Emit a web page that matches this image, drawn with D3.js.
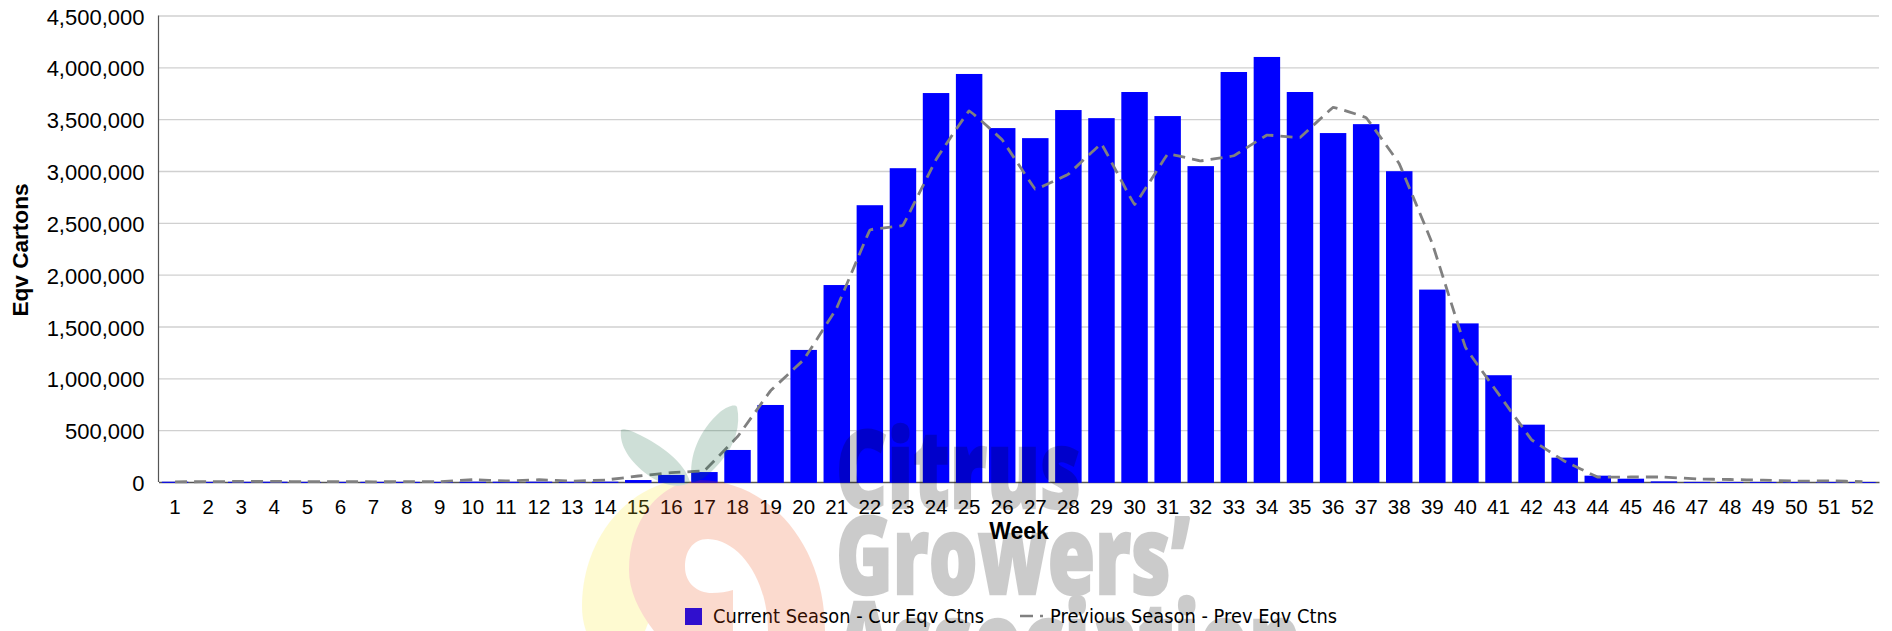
<!DOCTYPE html>
<html>
<head>
<meta charset="utf-8">
<style>
  html, body { margin: 0; padding: 0; background: #fff; overflow: hidden; }
  text { font-family: "Liberation Sans", Arial, sans-serif; fill: #000; }
</style>
<script src="https://cdn.jsdelivr.net/npm/d3@7"></script>
</head>
<body>
<script>
let width = 1892;
let height = 631;

let margin = {top: 15.5, right: 13, bottom: 149, left: 158.5};

let weeks = d3.range(1, 53);

let currentSeason = [
  2500, 1500, 2000, 2500, 1500, 1500, 1500, 1500, 1500, 3000,
  2500, 3000, 2000, 3000, 19000, 68000, 96000, 309000, 743000, 1274000,
  1900000, 2670000, 3027000, 3752000, 3936000, 3414000, 3317000, 3588000, 3510000, 3762000,
  3530000, 3047000, 3955000, 4100000, 3762000, 3366000, 3452000, 2998000, 1856000, 1530000,
  1030000, 553000, 235000, 61000, 32000, 6000, 1000, 500, 500, 500,
  500, 300
];

let previousSeason = [
  2000, 3000, 6000, 6000, 3000, 4000, 2000, 3000, 4000, 22000,
  10000, 22000, 8000, 19000, 58000, 90000, 110000, 437000, 880000, 1180000,
  1680000, 2430000, 2477000, 3110000, 3580000, 3300000, 2825000, 2970000, 3260000, 2676000,
  3163000, 3098000, 3147000, 3346000, 3324000, 3614000, 3514000, 3070000, 2300000, 1300000,
  850000, 408000, 200000, 48000, 48000, 48000, 29000, 24000, 18000, 8000,
  11000, 3000
];

let yTicks = d3.range(0, 4500001, 500000);

let legendLabels = ['Current Season - Cur Eqv Ctns', 'Previous Season - Prev Eqv Ctns'];

let svg = d3.select('body')
    .append('svg')
    .attr('width', width)
    .attr('height', height)
    .style('display', 'block');

let x = d3.scaleBand()
    .domain(weeks)
    .range([margin.left, width - margin.right])
    .paddingInner(0.2)
    .paddingOuter(0.1);

let y = d3.scaleLinear()
    .domain([0, 4500000])
    .range([height - margin.bottom, margin.top]);

// gridlines + left axis
let yAxis = svg.append('g')
    .attr('transform', `translate(${margin.left},0)`)
    .call(d3.axisLeft(y)
      .tickValues(yTicks)
      .tickSize(0)
      .tickPadding(14)
      .tickFormat(d3.format(',')));

yAxis.select('.domain').remove();
yAxis.selectAll('text')
    .attr('dy', '0.39em')
    .style('font-size', '22px');
yAxis.selectAll('.tick').filter(d => d > 0).append('line')
    .attr('x1', 0)
    .attr('x2', width - margin.right - margin.left)
    .attr('stroke', '#d0d0d0')
    .attr('stroke-width', 1.4);

svg.append('line')
    .attr('x1', margin.left)
    .attr('x2', margin.left)
    .attr('y1', y(4500000))
    .attr('y2', y(0))
    .attr('stroke', '#555')
    .attr('stroke-width', 1.2);

let xAxis = svg.append('g')
    .attr('transform', `translate(0,${y(0)})`)
    .call(d3.axisBottom(x).tickSize(0).tickPadding(17));

xAxis.select('.domain')
    .attr('stroke', '#555')
    .attr('stroke-width', 1.4);
xAxis.selectAll('text')
    .style('font-size', '20.5px');

svg.append('g')
  .selectAll('rect')
    .data(weeks)
  .enter().append('rect')
    .attr('x', d => x(d))
    .attr('width', x.bandwidth())
    .attr('y', (d, i) => y(currentSeason[i]))
    .attr('height', (d, i) => y(0) - y(currentSeason[i]) + 0.8)
    .attr('fill', '#0000ff');

let line = d3.line()
    .x(d => x(d) + x.bandwidth() / 2)
    .y((d, i) => y(previousSeason[i]))
    .curve(d3.curveCardinal.tension(0.9));

svg.append('path')
    .datum(weeks)
    .attr('d', line)
    .attr('fill', 'none')
    .attr('stroke', '#808080')
    .attr('stroke-width', 2.8)
    .attr('stroke-dasharray', '12,7');

// axis titles
svg.append('text')
    .attr('transform', 'translate(28,250) rotate(-90)')
    .attr('text-anchor', 'middle')
    .style('font-size', '22.6px')
    .style('font-weight', 'bold')
    .text('Eqv Cartons');

svg.append('text')
    .attr('x', 1019)
    .attr('y', 539)
    .attr('text-anchor', 'middle')
    .style('font-size', '23px')
    .style('font-weight', 'bold')
    .text('Week');

// legend
let legend = svg.append('g');

legend.append('rect')
    .attr('x', 685)
    .attr('y', 608)
    .attr('width', 17)
    .attr('height', 17)
    .attr('fill', '#0000ff');

legend.append('line')
    .attr('x1', 1020)
    .attr('x2', 1043)
    .attr('y1', 616)
    .attr('y2', 616)
    .attr('stroke', '#808080')
    .attr('stroke-width', 2.5)
    .attr('stroke-dasharray', '13,7');

legend.selectAll('.legend-label')
    .data(legendLabels)
  .enter().append('text')
    .attr('class', 'legend-label')
    .attr('x', (d, i) => i === 0 ? 713 : 1050)
    .attr('y', 623)
    .attr('textLength', (d, i) => i === 0 ? 271 : 287)
    .attr('lengthAdjust', 'spacingAndGlyphs')
    .style('font-family', '"DejaVu Sans"')
    .style('font-size', '19px')
    .text(d => d);

// logo watermark sits over everything, the whole page shows through it
let logo = svg.append('g').attr('opacity', 0.2);

logo.append('path')
    .attr('d', 'M582,606 C582,550 615,495 672,481 L700,490 L645,631 L586,631 C583,622 582,614 582,606 Z')
    .attr('fill', '#fbe91e');

logo.append('path')
    .attr('d', 'M629,570 C629,520 660,481 700,480 C770,481 825,545 825,631 L768,631 C768,580 740,540 708,539 C692,539 685,552 685,567 C685,583 697,593 712,593 C720,593 727,592 733,590 L733,631 L654,631 C638,610 629,590 629,570 Z')
    .attr('fill', '#f04a10');

logo.append('path')
    .attr('d', 'M690,482 C685,462 660,445 640,435 C630,430 623,428 621,430 C619,445 630,462 648,475 C660,484 680,490 690,482 Z')
    .attr('fill', '#0f643c');

logo.append('path')
    .attr('d', 'M692,482 C688,455 700,430 720,412 C728,406 735,404 737,407 C741,425 735,445 722,460 C712,472 702,482 692,482 Z')
    .attr('fill', '#0f643c');

let logoWords = [
  {word: 'Citrus', baseline: 508, len: 245},
  {word: 'Growers’', baseline: 594, len: 354},
  {word: 'Association', baseline: 680, len: 465}
];

logo.selectAll('.logo-word')
    .data(logoWords)
  .enter().append('text')
    .attr('class', 'logo-word')
    .attr('x', 836)
    .attr('y', d => d.baseline)
    .attr('textLength', d => d.len)
    .attr('lengthAdjust', 'spacingAndGlyphs')
    .attr('stroke', '#000')
    .attr('stroke-width', 2.5)
    .style('font-family', '"Open Sans"')
    .style('font-weight', 800)
    .style('font-size', '108px')
    .text(d => d.word);
</script>
</body>
</html>
